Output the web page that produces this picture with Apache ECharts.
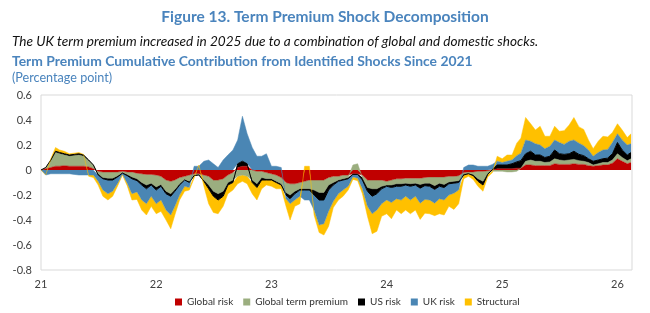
<!DOCTYPE html>
<html>
<head>
<meta charset="utf-8">
<script src="https://cdn.jsdelivr.net/npm/echarts@6/dist/echarts.min.js"></script>
<style>
  html, body { margin: 0; padding: 0; background: #fff; }
  #chart { width: 650px; height: 313px; }
</style>
</head>
<body>
<div id="chart"></div>
<script>
// half-monthly samples from 2021-01-01 to 2026-02-13 (1st and 16th of each month)
const startYear = 2021;
const sampleCount = 124;

const globalRisk = [
  0, 0.01, 0.02, 0.03, 0.03, 0.035, 0.03, 0.03, 0.03, 0.03, 0.025, 0.01,
  -0.01, -0.015, -0.015, -0.015, -0.015, -0.01, -0.015, -0.015, -0.025, -0.03, -0.035, -0.035,
  -0.04, -0.05, -0.08, -0.09, -0.08, -0.06, -0.05, -0.04, -0.03, -0.03, -0.04, -0.05,
  -0.08, -0.08, -0.07, -0.04, -0.02, 0.02, 0.03, 0.03, 0, -0.01, -0.01, -0.02,
  -0.03, -0.04, -0.06, -0.1, -0.11, -0.11, -0.1, -0.09, -0.08, -0.08, -0.08, -0.08,
  -0.06, -0.05, -0.05, -0.04, -0.04, -0.03, -0.03, -0.04, -0.08, -0.08, -0.08, -0.08,
  -0.09, -0.08, -0.07, -0.07, -0.065, -0.065, -0.065, -0.065, -0.06, -0.055, -0.055, -0.055,
  -0.055, -0.05, -0.05, -0.045, -0.02, -0.015, -0.015, -0.01, -0.01, -0.005, 0, 0.01,
  0.01, 0.01, 0.01, 0.015, 0.015, 0.04, 0.04, 0.035, 0.035, 0.035, 0.035, 0.05,
  0.045, 0.045, 0.045, 0.05, 0.045, 0.045, 0.035, 0.03, 0.035, 0.04, 0.04, 0.055,
  0.09, 0.07, 0.05, 0.06
];

const globalTermPremium = [
  0, 0.01, 0.05, 0.11, 0.10, 0.085, 0.08, 0.085, 0.09, 0.08, 0.05, 0.03,
  -0.02, -0.045, -0.05, -0.05, -0.03, -0.01, -0.02, -0.04, -0.045, -0.07, -0.085, -0.07,
  -0.095, -0.065, -0.09, -0.1, -0.075, -0.05, -0.025, -0.05, -0.01, -0.005, -0.04, -0.07,
  -0.09, -0.11, -0.1, -0.06, -0.06, -0.05, -0.04, -0.05, -0.08, -0.1, -0.05, -0.05,
  -0.04, -0.05, -0.05, -0.08, -0.09, -0.06, -0.05, -0.06, -0.07, -0.08, -0.1, -0.1,
  -0.06, -0.05, -0.03, -0.03, -0.02, 0.04, 0.05, -0.02, -0.06, -0.07, -0.07, -0.05,
  -0.03, -0.04, -0.04, -0.04, -0.04, -0.045, -0.04, -0.05, -0.045, -0.05, -0.07, -0.05,
  -0.06, -0.045, -0.04, -0.04, -0.01, -0.01, -0.02, -0.06, -0.08, -0.02, -0.01, -0.01,
  -0.01, -0.015, -0.015, -0.01, 0, 0.03, 0.04, 0.035, 0.035, 0.025, 0.03, 0.04,
  0.035, 0.03, 0.035, 0.035, 0.03, 0.025, 0.025, 0.01, 0.015, 0.02, 0.02, 0.025,
  0.04, 0.03, 0.025, 0.03
];

const usRisk = [
  0, 0, 0.01, 0.01, 0.01, 0.01, 0.01, 0.01, 0.01, 0.01, 0.005, 0,
  -0.01, -0.01, -0.015, -0.015, -0.01, -0.005, -0.01, -0.015, -0.015, -0.02, -0.03, -0.015,
  -0.025, -0.015, -0.02, -0.02, -0.015, -0.01, -0.005, -0.01, -0.005, -0.005, -0.01, -0.03,
  -0.04, -0.05, -0.04, -0.02, -0.02, 0.03, 0.04, 0.02, -0.02, -0.03, -0.02, -0.01,
  -0.01, -0.01, -0.01, -0.02, -0.03, -0.02, -0.01, -0.01, -0.01, -0.04, -0.06, -0.06,
  -0.04, -0.02, -0.01, -0.01, -0.01, -0.005, -0.005, -0.02, -0.03, -0.06, -0.04, -0.02,
  -0.01, -0.02, -0.02, -0.02, -0.015, -0.02, -0.015, -0.03, -0.02, -0.025, -0.03, -0.025,
  -0.025, -0.015, -0.015, -0.015, -0.01, -0.005, -0.01, -0.02, -0.03, -0.01, 0.005, 0.03,
  0.03, 0.03, 0.04, 0.05, 0.06, 0.06, 0.07, 0.05, 0.05, 0.04, 0.045, 0.07,
  0.05, 0.05, 0.05, 0.065, 0.05, 0.045, 0.03, 0.03, 0.03, 0.03, 0.035, 0.05,
  0.09, 0.06, 0.045, 0.05
];

const ukRisk = [
  0, -0.04, -0.03, -0.03, -0.03, -0.03, -0.03, -0.035, -0.04, -0.04, -0.04, -0.04,
  -0.05, -0.09, -0.11, -0.09, -0.05, -0.01, -0.06, -0.12, -0.09, -0.12, -0.12, -0.09,
  -0.11, -0.11, -0.13, -0.15, -0.12, -0.08, -0.05, -0.04, 0.03, 0.03, 0.07, 0.08,
  0.05, 0.02, 0.08, 0.12, 0.16, 0.19, 0.36, 0.24, 0.18, 0.11, 0.11, 0.13,
  0.03, 0.03, 0.02, -0.03, -0.04, -0.05, -0.05, -0.08, -0.08, -0.12, -0.2, -0.19,
  -0.17, -0.13, -0.1, -0.08, -0.06, -0.02, -0.03, -0.07, -0.12, -0.14, -0.13, -0.12,
  -0.11, -0.12, -0.1, -0.11, -0.09, -0.11, -0.09, -0.12, -0.11, -0.11, -0.11, -0.1,
  -0.1, -0.09, -0.08, -0.06, 0.02, 0.04, 0.04, 0.03, 0.03, 0.03, 0.04, 0.03,
  0.02, 0.03, 0.03, 0.05, 0.06, 0.11, 0.08, 0.09, 0.08, 0.07, 0.08, 0.08,
  0.09, 0.08, 0.1, 0.09, 0.09, 0.08, 0.07, 0.04, 0.06, 0.07, 0.07, 0.09,
  0.07, 0.08, 0.08, 0.07
];

const structural = [
  0, 0, 0.01, 0.03, 0.02, 0.02, 0.01, 0.01, 0.01, 0.005, -0.01, -0.02,
  -0.03, -0.05, -0.05, -0.04, -0.02, -0.005, -0.02, -0.05, -0.06, -0.08, -0.09, -0.08,
  -0.08, -0.09, -0.08, -0.11, -0.07, -0.04, -0.04, -0.02, -0.02, 0.01, -0.04, -0.12,
  -0.13, -0.11, -0.08, -0.07, -0.06, -0.06, -0.05, -0.06, -0.09, -0.1, -0.07, -0.04,
  -0.05, -0.05, -0.03, -0.06, -0.13, -0.05, -0.06, 0.03, 0.03, -0.04, -0.06, -0.09,
  -0.12, -0.05, -0.05, -0.05, -0.03, -0.02, -0.02, -0.04, -0.08, -0.16, -0.17, -0.1,
  -0.11, -0.13, -0.09, -0.11, -0.11, -0.11, -0.11, -0.13, -0.11, -0.11, -0.1, -0.12,
  -0.12, -0.09, -0.13, -0.11, -0.03, -0.02, -0.03, -0.04, -0.05, -0.02, -0.01, 0.04,
  0.03, 0.05, 0.04, 0.1, 0.12, 0.18, 0.14, 0.11, 0.15, 0.1, 0.08, 0.11,
  0.09, 0.11, 0.13, 0.18, 0.13, 0.13, 0.08, 0.06, 0.09, 0.11, 0.1, 0.08,
  0.08, 0.08, 0.06, 0.08
];

const yTicks = { min: -0.8, max: 0.6, step: 0.2 };

const dates = [];
for (let i = 0; i < sampleCount; i++) {
  const y = startYear + Math.floor(i / 24);
  const m = Math.floor((i % 24) / 2);
  const d = i === sampleCount - 1 ? 13 : (i % 2 === 0 ? 1 : 16);
  dates.push(y + '-' + String(m + 1).padStart(2, '0') + '-' + String(d).padStart(2, '0'));
}

const blue = '#4a84bd';
const font = 'Lato, "Open Sans", sans-serif';

function makeSeries(name, values, color, lineWidth) {
  return {
    name: name,
    type: 'line',
    stack: 'shocks',
    stackStrategy: 'samesign',
    symbol: 'none',
    color: color,
    lineStyle: { width: lineWidth, color: color },
    areaStyle: { color: color, opacity: 1 },
    data: values.map((v, i) => [dates[i], v])
  };
}

const chart = echarts.init(document.getElementById('chart'));
chart.setOption({
  animation: false,
  textStyle: { fontFamily: font },
  title: [
    {
      text: 'Figure 13. Term Premium Shock Decomposition',
      left: 'center', top: 9, padding: 0,
      textStyle: { fontSize: 15.5, fontWeight: 'bold', color: blue, fontFamily: font }
    },
    {
      text: 'The UK term premium increased in 2025 due to a combination of global and domestic shocks.',
      left: 12, top: 35, padding: 0,
      textStyle: { fontSize: 13.6, fontStyle: 'italic', fontWeight: 'normal', color: '#111', fontFamily: font }
    },
    {
      text: 'Term Premium Cumulative Contribution from Identified Shocks Since 2021',
      left: 12, top: 55, padding: 0,
      textStyle: { fontSize: 13.9, fontWeight: 'bold', color: blue, fontFamily: font }
    },
    {
      text: '(Percentage point)',
      left: 12, top: 71, padding: 0,
      textStyle: { fontSize: 12.6, fontWeight: 'normal', color: blue, fontFamily: font }
    }
  ],
  legend: {
    top: 292,
    left: 170,
    itemWidth: 7,
    itemHeight: 7,
    itemGap: 10,
    icon: 'rect',
    textStyle: { fontSize: 10, color: '#333', fontFamily: font },
    data: ['Global risk', 'Global term premium', 'US risk', 'UK risk', 'Structural']
  },
  grid: {
    left: 41, right: 18, top: 95, bottom: 43,
    show: true, borderColor: '#d9d9d9', borderWidth: 1
  },
  xAxis: {
    type: 'time',
    min: '2021-01-01',
    max: '2026-02-16',
    minInterval: 365 * 24 * 3600 * 1000,
    axisLine: { show: false },
    axisTick: { show: false },
    splitLine: { show: false },
    axisLabel: {
      color: '#404040', fontSize: 11, margin: 9, fontFamily: font,
      formatter: function (v) {
        const d = new Date(v);
        return d.getMonth() === 0 ? String(d.getFullYear()).slice(2) : '';
      }
    }
  },
  yAxis: {
    type: 'value',
    min: yTicks.min,
    max: yTicks.max,
    interval: yTicks.step,
    axisLine: { show: false },
    axisTick: { show: false },
    splitLine: { show: false },
    axisLabel: {
      color: '#404040', fontSize: 11, margin: 9, fontFamily: font,
      formatter: function (v) { return Math.abs(v) < 1e-9 ? '0' : v.toFixed(1); }
    }
  },
  series: [
    makeSeries('Global risk', globalRisk, '#c00000', 0.5),
    makeSeries('Global term premium', globalTermPremium, '#9bae7f', 0.5),
    makeSeries('US risk', usRisk, '#000000', 1),
    makeSeries('UK risk', ukRisk, '#4a86b4', 0.5),
    makeSeries('Structural', structural, '#ffc000', 0.5)
  ]
});
</script>
</body>
</html>
